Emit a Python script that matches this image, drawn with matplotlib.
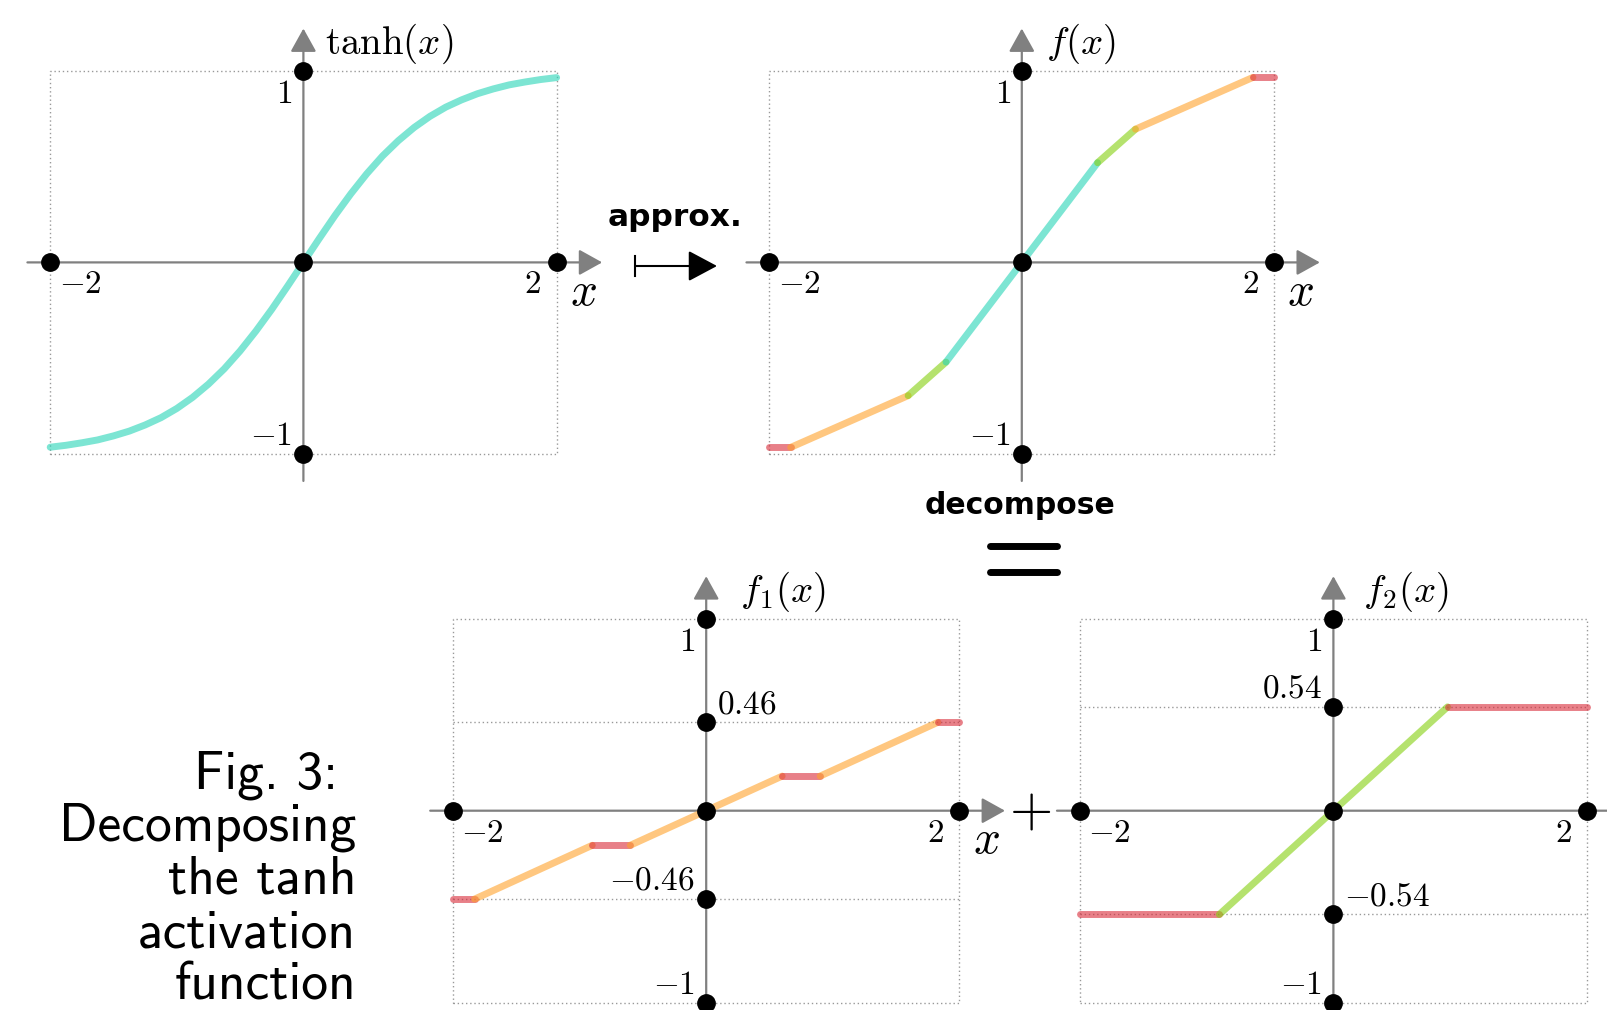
# -------------------------
# Fig. 3: tanh -> piecewise-linear approx -> f1 + f2
# -------------------------
import matplotlib
matplotlib.use('Agg')
import matplotlib.pyplot as plt
from matplotlib.lines import Line2D

plt.rcParams['mathtext.fontset'] = 'cm'

W, H = 1607, 1010

# -------------------------
# Data
# -------------------------
tanh_x = [-2.0, -1.875, -1.75, -1.625, -1.5, -1.375, -1.25, -1.125, -1.0,
          -0.875, -0.75, -0.625, -0.5, -0.375, -0.25, -0.125, 0.0,
          0.125, 0.25, 0.375, 0.5, 0.625, 0.75, 0.875, 1.0,
          1.125, 1.25, 1.375, 1.5, 1.625, 1.75, 1.875, 2.0]
tanh_y = [-0.964, -0.954, -0.941, -0.926, -0.905, -0.880, -0.848, -0.810, -0.762,
          -0.704, -0.635, -0.555, -0.462, -0.358, -0.245, -0.124, 0.0,
          0.124, 0.245, 0.358, 0.462, 0.555, 0.635, 0.704, 0.762,
          0.810, 0.848, 0.880, 0.905, 0.926, 0.941, 0.954, 0.964]

f_x = [-2.0, -1.83, -0.9, -0.6, 0.6, 0.9, 1.83, 2.0]
f_y = [-0.965, -0.965, -0.695, -0.52, 0.52, 0.695, 0.965, 0.965]
f_cols = ['red', 'orange', 'green', 'cyan', 'green', 'orange', 'red']

f1_x = [-2.0, -1.83, -0.9, -0.6, 0.6, 0.9, 1.83, 2.0]
f1_y = [-0.46, -0.46, -0.18, -0.18, 0.18, 0.18, 0.46, 0.46]
f1_cols = ['red', 'orange', 'red', 'orange', 'red', 'orange', 'red']

f2_x = [-2.0, -0.9, 0.9, 2.0]
f2_y = [-0.54, -0.54, 0.54, 0.54]
f2_cols = ['red', 'green', 'red']

x_ticks = [-2, 2]
x_tick_labels = [r'$-2$', r'$2$']

# (value, label, side) ; side: where the label sits relative to the dot
y_ticks_main = [(1, r'$1$', 'lb'), (-1, r'$-1$', 'la')]
y_ticks_f1 = [(1, r'$1$', 'lb'), (0.46, r'$0.46$', 'ra'),
              (-0.46, r'$-0.46$', 'la'), (-1, r'$-1$', 'la')]
y_ticks_f2 = [(1, r'$1$', 'lb'), (0.54, r'$0.54$', 'la'),
              (-0.54, r'$-0.54$', 'ra'), (-1, r'$-1$', 'la')]
guides_f1 = [0.46, -0.46]
guides_f2 = [0.54, -0.54]

caption_lines = ['Fig. 3:', 'Decomposing', 'the tanh', 'activation', 'function']

palette = {'cyan': '#26d4b7', 'orange': '#ffa32b',
           'green': '#84d00d', 'red': '#d92b39'}
ALPHA = 0.6
GRAY = '#808080'
LW = 5.0

fig = plt.figure(figsize=(W / 100, H / 100), dpi=100)


def fx(px):
    return px / W


def fy(py):
    # py measured from the top
    return 1 - py / H


def panel(ox, oy, ux, uy, ylabel, ylabel_dx, y_ticks, guides=(), show_x=True):
    xl = (-2.6, 2.6)
    yl = (-1.4, 1.4)
    left = (ox + xl[0] * ux) / W
    bottom = 1 - (oy - yl[0] * uy) / H
    ax = fig.add_axes([left, bottom, (xl[1] - xl[0]) * ux / W, (yl[1] - yl[0]) * uy / H])
    ax.set_xlim(xl)
    ax.set_ylim(yl)
    ax.axis('off')

    x0, x1 = x_ticks[0], x_ticks[-1]
    ys = [t[0] for t in y_ticks]
    y0, y1 = min(ys), max(ys)
    dot_kw = dict(color='#999999', lw=1.0, ls=(0, (1, 2)), zorder=1, clip_on=False)
    ax.plot([x0, x1, x1, x0, x0], [y0, y0, y1, y1, y0], **dot_kw)
    for g in guides:
        ax.plot([x0, x1], [g, g], **dot_kw)

    # axes with arrow heads
    arr = dict(arrowstyle='-|>,head_length=0.72,head_width=0.4', mutation_scale=20,
               color=GRAY, lw=1.6, shrinkA=0, shrinkB=0)
    ax.annotate('', xy=(2.36, 0), xytext=(-2.18, 0), arrowprops=arr, zorder=2,
                annotation_clip=False)
    ax.annotate('', xy=(0, 1.22), xytext=(0, -1.14), arrowprops=arr, zorder=2,
                annotation_clip=False)

    # dots
    ax.plot(x_ticks + [0], [0] * (len(x_ticks) + 1), 'o', color='black', ms=12.5,
            zorder=5, clip_on=False)
    ax.plot([0] * len(ys), ys, 'o', color='black', ms=12.5, zorder=5, clip_on=False)

    # tick labels
    for xv, lab in zip(x_ticks, x_tick_labels):
        if xv < 0:
            ax.annotate(lab, (xv, 0), xytext=(6, -15.5), textcoords='offset points',
                        ha='left', va='center', fontsize=24, zorder=6)
        else:
            ax.annotate(lab, (xv, 0), xytext=(-11, -15.5), textcoords='offset points',
                        ha='right', va='center', fontsize=24, zorder=6)
    for yv, lab, side in y_ticks:
        dx = -8 if side[0] == 'l' else 7.5
        dy = -16.5 if side[1] == 'b' else 13.5
        ax.annotate(lab, (0, yv), xytext=(dx, dy), textcoords='offset points',
                    ha='right' if side[0] == 'l' else 'left', va='center',
                    fontsize=24, zorder=6)

    ax.text(ylabel_dx, 1.14, ylabel, fontsize=28, ha='left', va='center')
    if show_x:
        ax.text(2.21, -0.155, r'$x$', fontsize=34, ha='center', va='center')
    return ax


def segments(ax, xs, ys, cols):
    for i, c in enumerate(cols):
        ax.plot(xs[i:i + 2], ys[i:i + 2], color=palette[c], alpha=ALPHA, lw=LW,
                solid_capstyle='round', zorder=3, clip_on=False)


# -------------------------
# Panels
# -------------------------
ax1 = panel(303.4, 262.4, 126.6, 191.7, r'$\tanh(x)$', 0.17, y_ticks_main)
ax1.plot(tanh_x, tanh_y, color=palette['cyan'], alpha=ALPHA, lw=LW,
         solid_capstyle='round', solid_joinstyle='round', zorder=3)

ax2 = panel(1021.8, 262.4, 126.3, 191.7, r'$f(x)$', 0.19, y_ticks_main)
segments(ax2, f_x, f_y, f_cols)

ax3 = panel(706.2, 810.7, 126.6, 192.2, r'$f_1(x)$', 0.27, y_ticks_f1, guides_f1)
segments(ax3, f1_x, f1_y, f1_cols)

ax4 = panel(1333.4, 810.7, 126.8, 192.2, r'$f_2(x)$', 0.23, y_ticks_f2, guides_f2,
            show_x=False)
segments(ax4, f2_x, f2_y, f2_cols)

# -------------------------
# Annotations between panels
# -------------------------
fig.text(fx(675.4), fy(217), 'approx.', fontsize=22.5, fontweight='bold',
         family='DejaVu Sans', ha='center', va='center')
fig.text(fx(1020), fy(505), 'decompose', fontsize=21.5, fontweight='bold',
         family='DejaVu Sans', ha='center', va='center')

# mapsto arrow
fig.add_artist(Line2D([fx(635), fx(635)], [fy(256), fy(276)], color='black', lw=1.5))
plt.annotate('', xy=(fx(717), fy(266)), xytext=(fx(635), fy(266)),
             xycoords='figure fraction', textcoords='figure fraction',
             arrowprops=dict(arrowstyle='-|>,head_length=0.9,head_width=0.48',
                             mutation_scale=20, color='black', lw=1.5,
                             shrinkA=0, shrinkB=0))

# equals sign
for yy in (546, 571.5):
    fig.add_artist(Line2D([fx(990), fx(1056.5)], [fy(yy), fy(yy)], color='black',
                          lw=5, solid_capstyle='round'))

# plus sign
fig.text(fx(1030), fy(810.7), r'$+$', fontsize=40, ha='center', va='center')

# caption
baselines = [788, 841, 894, 947, 1000]
for i, (line, yb) in enumerate(zip(caption_lines, baselines)):
    xr = 338 if i == 0 else 356
    fig.text(fx(xr), fy(yb), line, fontsize=38.5, family='cmss10',
             ha='right', va='baseline')

plt.savefig('out.png', dpi=100)
